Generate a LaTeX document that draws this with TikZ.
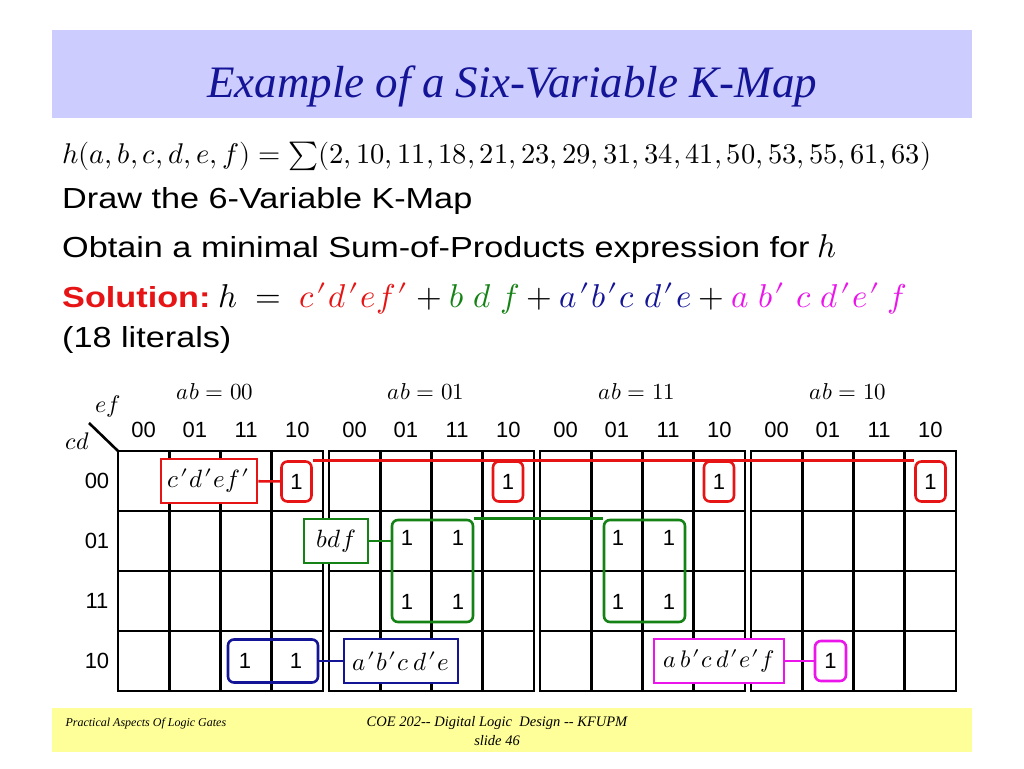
\documentclass[tikz,border=0pt]{standalone}
\usepackage{fontspec}
\usepackage{unicode-math}
\setmainfont{Liberation Sans}
\setmathfont{Latin Modern Math}
\newfontfamily\titlefont{Liberation Serif}
\usetikzlibrary{positioning}
\definecolor{titleblue}{RGB}{20,20,150}
\definecolor{bandblue}{RGB}{204,204,255}
\definecolor{bandyellow}{RGB}{255,255,153}
\definecolor{solred}{RGB}{230,20,20}
\definecolor{grpgreen}{RGB}{20,130,20}
\definecolor{grpblue}{RGB}{20,20,150}
\definecolor{grpmag}{RGB}{235,20,235}
\newcommand{\widen}[1]{\scalebox{1.18}[1]{#1}}
\newcommand{\cmp}{\mkern1mu\prime\mkern1mu}
\tikzset{
  gridline/.style={line width=2.6pt, black},
  collab/.style={font=\fontsize{22}{24}\selectfont, inner sep=0pt},
  one/.style={font=\fontsize{22}{24}\selectfont, inner sep=0pt},
  onebox/.style={draw=#1, line width=2.6pt, rounded corners=6pt, inner sep=0pt,
    font=\fontsize{22}{24}\selectfont},
  termbox/.style={draw=#1, line width=2.6pt, inner sep=0pt, fill=white,
    font=\fontsize{25}{27}\selectfont},
  link/.style={line width=2.6pt, #1},
  body/.style={anchor=base west, inner sep=0pt, font=\fontsize{29}{31}\selectfont},
  footer/.style={font=\titlefont\itshape\fontsize{#1}{16}\selectfont},
}
\begin{document}
\begin{tikzpicture}[x=1pt, y=-1pt]
  \useasboundingbox (0,0) rectangle (1024,768);
  % title and footer bands
  \fill[bandblue] (52,30) rectangle (972,118);
  \node[anchor=base, text=titleblue, font=\titlefont\itshape\fontsize{45}{48}\selectfont]
    (title) at (512,97) {Example of a Six-Variable K-Map};
  \fill[bandyellow] (52,708) rectangle (972,752);
  \node[anchor=base west, footer=12] (foot1) at (62,726) {Practical Aspects Of Logic Gates};
  \node[anchor=base, footer=14.5] (foot2) at (497,726) {COE 202-- Digital Logic\ \ Design -- KFUPM};
  \node[anchor=base, footer=14.5] (foot3) at (497,745) {slide 46};
  % statement
  \node[body, font=\fontsize{28.5}{30}\selectfont] (fn) at (62,163)
    {$h(a,b,c,d,e,f)=\sum(2,10,11,18,21,23,29,31,34,41,50,53,55,61,63)$};
  \node[body] (q1) at (62,208) {\widen{Draw the 6-Variable K-Map}};
  \node[body] (q2) at (62,257) {\widen{Obtain a minimal Sum-of-Products expression for}
    {\fontsize{33}{35}\selectfont$h$}};
  \node[body] (sol) at (62,307)
    {\widen{\textcolor{solred}{\bfseries Solution:}} {\fontsize{33}{35}\selectfont
     $h\;=\;\textcolor{solred}{c\cmp d\cmp ef\cmp}
     +\textcolor{grpgreen}{b\;d\;f}+\textcolor{grpblue}{a\cmp b\cmp c\;d\cmp e}
     +\textcolor{grpmag}{a\;b\cmp\;c\;d\cmp e\cmp\,f}$}};
  \node[body] (lit) at (62,347) {\widen{(18 literals)}};
  % K-map grid
  \foreach \b/\t in {0/00,1/01,2/11,3/10} {
    \draw[gridline] (118+211*\b,451) rectangle ++(205,240);
    \foreach \i in {1,2,3}
      \draw[gridline] (118+211*\b+51.25*\i,451) -- ++(0,240);
    \foreach \j in {1,2,3}
      \draw[gridline] (118+211*\b,451+60*\j) -- ++(205,0);
    \node[font=\fontsize{23}{25}\selectfont] (ab\b) at (215+211*\b,392) {$ab=\t$};
    \foreach \c/\s in {0/00,1/01,2/11,3/10}
      \node[collab] (col\b\c) at (118+211*\b+25.6+51.25*\c,430) {\s};
  }
  \foreach \r/\s in {0/00,1/01,2/11,3/10}
    \node[collab] (row\r) at (97,481+60*\r) {\s};
  \coordinate (corner) at (118,451);
  \coordinate (slash) at (89,423);
  \draw[line width=2.6pt] (corner) -- (slash);
  \node[font=\fontsize{24}{26}\selectfont] (ef) at (108,406) {$ef$};
  \node[font=\fontsize{24}{26}\selectfont] (cd) at (78,441) {$cd$};
  % c'd'ef'
  \node[termbox=solred, minimum width=96pt, minimum height=44pt] (rt) at (209,481) {$c\cmp d\cmp ef\cmp$};
  \node[onebox=solred, minimum width=30pt, minimum height=40pt] (r1) at (296.5,481.5) {1};
  \node[onebox=solred, minimum width=30pt, minimum height=40pt] (r2) at (508,481.5) {1};
  \node[onebox=solred, minimum width=30pt, minimum height=40pt] (r3) at (719,481.5) {1};
  \node[onebox=solred, minimum width=30pt, minimum height=40pt] (r4) at (930.5,481.5) {1};
  \draw[link=solred] (rt) -- (r1);
  \draw[link=solred] (r1.north east) -- (r4.north west);
  % bdf
  \node[termbox=grpgreen, minimum width=64pt, minimum height=44pt] (gt) at (336,541) {$bdf$};
  \node[onebox=grpgreen, minimum width=81pt, minimum height=102pt] (g1) at (432.5,571) {};
  \node[onebox=grpgreen, minimum width=81pt, minimum height=102pt] (g2) at (644.5,571) {};
  \foreach \x in {407,458,618,669}
    \foreach \y in {538,602}
      \node[one] (g\x\y) at (\x,\y) {1};
  \draw[link=grpgreen] (gt.east) -- (gt.east -| g1.west);
  \draw[link=grpgreen] (g1.north east) -- (g2.north west);
  % a'b'c d'e
  \node[onebox=grpblue, minimum width=90pt, minimum height=43pt] (b1) at (273,661) {};
  \node[one] (b10) at (245,661) {1};
  \node[one] (b11) at (296,661) {1};
  \node[termbox=grpblue, minimum width=114pt, minimum height=44pt] (bt) at (401,661) {$a\cmp b\cmp c\,d\cmp e$};
  \draw[link=grpblue] (b1) -- (bt);
  % a b' c d'e' f
  \node[termbox=grpmag, minimum width=130pt, minimum height=44pt, font=\fontsize{24}{26}\selectfont]
    (mt) at (719,661) {$a\,b\cmp c\,d\cmp e\cmp f$};
  \node[onebox=grpmag, minimum width=31pt, minimum height=40pt] (m1) at (830.5,661) {1};
  \draw[link=grpmag] (mt) -- (m1);
\end{tikzpicture}
\end{document}
